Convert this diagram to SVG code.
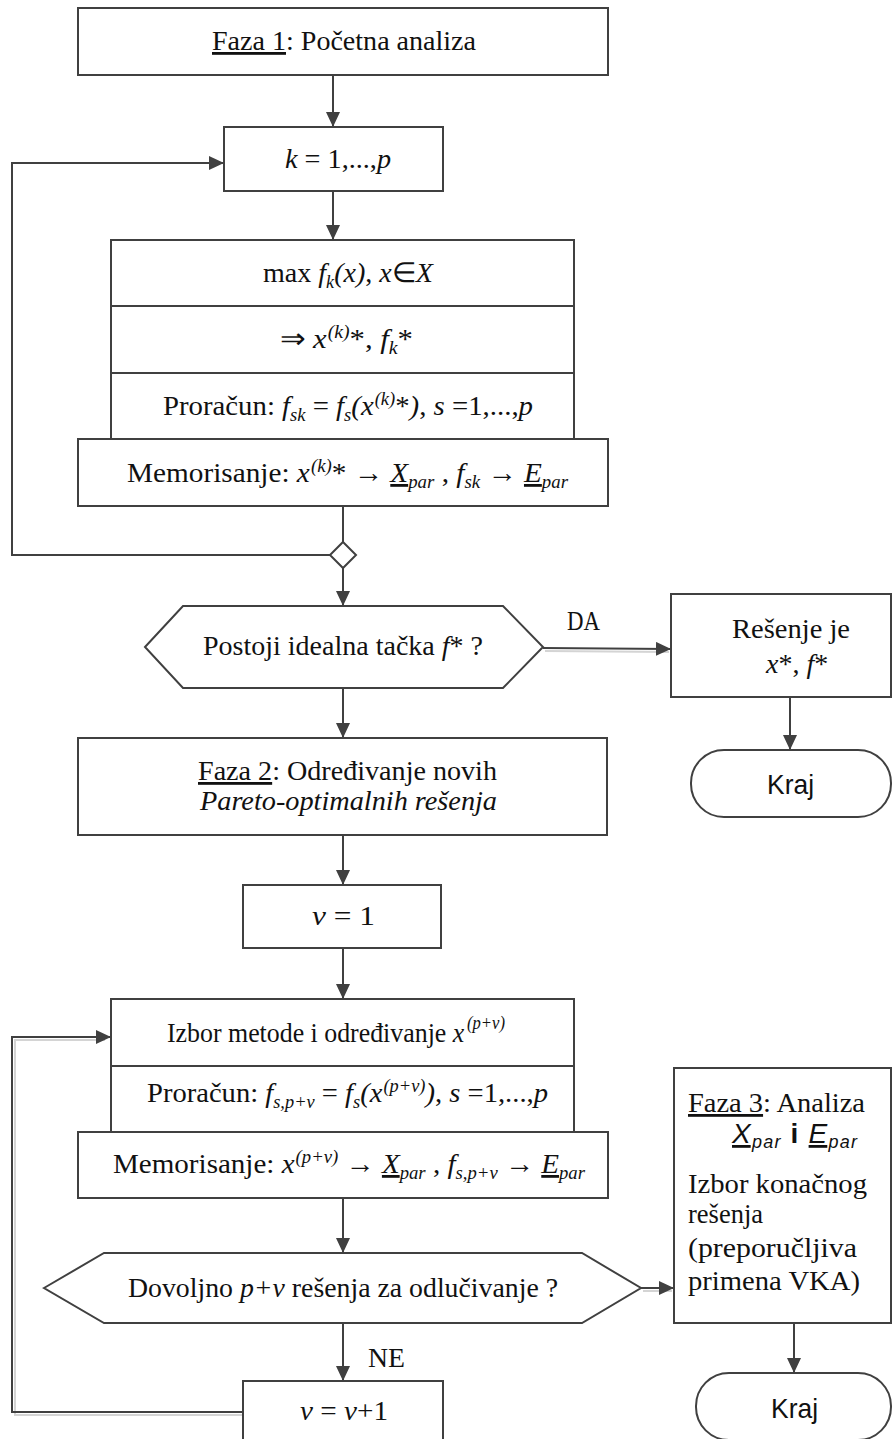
<svg xmlns="http://www.w3.org/2000/svg" width="893" height="1439" viewBox="0 0 893 1439">
  <style>
    .box{fill:#fff;stroke:#404040;stroke-width:2}
    .ln{fill:none;stroke:#404040;stroke-width:2}
    .sh{fill:none;stroke:#d4d4d4;stroke-width:2}
    .t{font-family:"Liberation Serif","Times New Roman",serif;font-size:28px;fill:#111}
    .i{font-style:italic}
    .sb{font-size:18px}
    .sans{font-family:"Liberation Sans",Arial,sans-serif}
    .u{text-decoration:underline}
  </style>
  <defs>
    <marker id="arr" viewBox="0 0 15 14" refX="15" refY="7" markerWidth="15" markerHeight="14" markerUnits="userSpaceOnUse" orient="auto">
      <path d="M0,0 L15,7 L0,14 z" fill="#404040"/>
    </marker>
  </defs>
  <rect width="893" height="1439" fill="#fff"/>

  <!-- connectors -->
  <g id="connectors">
    <!-- soft shadows under some routes -->
    <polyline class="sh" points="545,651 669,652"/>
    <polyline class="sh" points="643,1291 672,1291"/>
    <polyline class="sh" points="243,1415 15,1415 15,1040 105,1040"/>

    <line class="ln" x1="333" y1="75" x2="333" y2="127" marker-end="url(#arr)"/>
    <line class="ln" x1="333" y1="191" x2="333" y2="240" marker-end="url(#arr)"/>
    <line class="ln" x1="343" y1="506" x2="343" y2="542"/>
    <polyline class="ln" points="330,555 12,555 12,163 224,163" marker-end="url(#arr)"/>
    <line class="ln" x1="343" y1="568" x2="343" y2="606" marker-end="url(#arr)"/>
    <line class="ln" x1="543" y1="648" x2="671" y2="649" marker-end="url(#arr)"/>
    <line class="ln" x1="790" y1="697" x2="790" y2="750" marker-end="url(#arr)"/>
    <line class="ln" x1="343" y1="688" x2="343" y2="738" marker-end="url(#arr)"/>
    <line class="ln" x1="343" y1="835" x2="343" y2="885" marker-end="url(#arr)"/>
    <line class="ln" x1="343" y1="948" x2="343" y2="999" marker-end="url(#arr)"/>
    <line class="ln" x1="343" y1="1198" x2="343" y2="1253" marker-end="url(#arr)"/>
    <line class="ln" x1="641" y1="1288" x2="674" y2="1288" marker-end="url(#arr)"/>
    <line class="ln" x1="343" y1="1323" x2="343" y2="1381" marker-end="url(#arr)"/>
    <polyline class="ln" points="243,1412 12,1412 12,1037 111,1037" marker-end="url(#arr)"/>
    <line class="ln" x1="794" y1="1323" x2="794" y2="1373" marker-end="url(#arr)"/>

    <text class="t" x="567" y="630" font-size="26" textLength="33" lengthAdjust="spacingAndGlyphs">DA</text>
    <text class="t" x="368" y="1367" font-size="26" textLength="37" lengthAdjust="spacingAndGlyphs">NE</text>
  </g>

  <!-- phase 1 -->
  <g id="n-faza1">
    <rect class="box" x="78" y="8" width="530" height="67"/>
    <text class="t" x="212" y="50" font-size="27" textLength="264" lengthAdjust="spacingAndGlyphs"><tspan class="u">Faza 1</tspan>: Početna analiza</text>
  </g>

  <g id="n-k">
    <rect class="box" x="224" y="127" width="219" height="64"/>
    <text class="t" x="285" y="168" font-size="30" textLength="106" lengthAdjust="spacingAndGlyphs"><tspan class="i">k</tspan> = 1,...,<tspan class="i">p</tspan></text>
  </g>

  <g id="n-max">
    <rect class="box" x="111" y="240" width="463" height="199"/>
    <line class="ln" x1="111" y1="306" x2="574" y2="306"/>
    <line class="ln" x1="111" y1="373" x2="574" y2="373"/>
    <text class="t" x="263" y="282" textLength="170" lengthAdjust="spacingAndGlyphs">max <tspan class="i">f</tspan><tspan class="i sb" dy="6">k</tspan><tspan class="i" dy="-6">(x)</tspan>, <tspan class="i">x</tspan>∈<tspan class="i">X</tspan></text>
    <text class="t" x="280" y="348" textLength="133" lengthAdjust="spacingAndGlyphs">⇒ <tspan class="i">x</tspan><tspan class="i sb" dx="1" dy="-10">(k)</tspan><tspan dy="10">*, </tspan><tspan class="i">f</tspan><tspan class="i sb" dy="6">k</tspan><tspan dy="-6">*</tspan></text>
    <text class="t" x="163" y="415" textLength="370" lengthAdjust="spacingAndGlyphs">Proračun: <tspan class="i">f</tspan><tspan class="i sb" dy="6">sk</tspan><tspan dy="-6"> = </tspan><tspan class="i">f</tspan><tspan class="i sb" dy="6">s</tspan><tspan class="i" dy="-6">(x</tspan><tspan class="i sb" dx="1" dy="-10">(k)</tspan><tspan dy="10">*</tspan><tspan class="i">)</tspan>, <tspan class="i">s</tspan> =1,...,<tspan class="i">p</tspan></text>
  </g>

  <g id="n-mem1">
    <rect class="box" x="78" y="439" width="530" height="67"/>
    <text class="t" x="127" y="482" textLength="441" lengthAdjust="spacingAndGlyphs">Memorisanje:  <tspan class="i">x</tspan><tspan class="i sb" dx="1" dy="-10">(k)</tspan><tspan dy="10">* → </tspan><tspan class="i u">X</tspan><tspan class="i sb" dy="6">par</tspan><tspan dy="-6"> , </tspan><tspan class="i">f</tspan><tspan class="i sb" dy="6">sk</tspan><tspan dy="-6"> → </tspan><tspan class="i u">E</tspan><tspan class="i sb" dy="6">par</tspan></text>
  </g>

  <g id="n-merge">
    <polygon class="box" points="343,542 356,555 343,568 330,555"/>
  </g>

  <g id="n-ideal">
    <polygon class="box" points="145,647 183,606 503,606 543,647 503,688 183,688"/>
    <text class="t" x="203" y="655" textLength="280" lengthAdjust="spacingAndGlyphs">Postoji idealna tačka <tspan class="i">f</tspan>* ?</text>
  </g>

  <g id="n-resenje">
    <rect class="box" x="671" y="594" width="220" height="103"/>
    <text class="t" x="732" y="638" textLength="118" lengthAdjust="spacingAndGlyphs">Rešenje je</text>
    <text class="t" x="766" y="673" font-size="27"><tspan class="i">x</tspan>*, <tspan class="i">f</tspan>*</text>
  </g>

  <g id="n-kraj1">
    <rect class="box" x="691" y="750" width="200" height="67" rx="33" ry="33"/>
    <text class="t sans" x="767" y="794" font-size="29" textLength="47" lengthAdjust="spacingAndGlyphs">Kraj</text>
  </g>

  <!-- phase 2 -->
  <g id="n-faza2">
    <rect class="box" x="78" y="738" width="529" height="97"/>
    <text class="t" x="198" y="780" textLength="299" lengthAdjust="spacingAndGlyphs"><tspan class="u">Faza 2</tspan>: Određivanje novih</text>
    <text class="t i" x="200" y="810" textLength="297" lengthAdjust="spacingAndGlyphs">Pareto-optimalnih rešenja</text>
  </g>

  <g id="n-v1">
    <rect class="box" x="243" y="885" width="198" height="63"/>
    <text class="t" x="312" y="925" font-size="30" textLength="63" lengthAdjust="spacingAndGlyphs"><tspan class="i">v</tspan>  = 1</text>
  </g>

  <g id="n-izbor">
    <rect class="box" x="111" y="999" width="463" height="133"/>
    <line class="ln" x1="111" y1="1066" x2="574" y2="1066"/>
    <text class="t" x="167" y="1042" textLength="338" lengthAdjust="spacingAndGlyphs">Izbor metode i određivanje <tspan class="i">x</tspan><tspan class="i sb" dx="3" dy="-13">(p+v)</tspan></text>
    <text class="t" x="147" y="1102" textLength="401" lengthAdjust="spacingAndGlyphs">Proračun: <tspan class="i">f</tspan><tspan class="i sb" dy="6">s,p+v</tspan><tspan dy="-6"> = </tspan><tspan class="i">f</tspan><tspan class="i sb" dy="6">s</tspan><tspan class="i" dy="-6">(x</tspan><tspan class="i sb" dx="1" dy="-10">(p+v)</tspan><tspan class="i" dy="10">)</tspan>, <tspan class="i">s</tspan> =1,...,<tspan class="i">p</tspan></text>
  </g>

  <g id="n-mem2">
    <rect class="box" x="78" y="1132" width="530" height="66"/>
    <text class="t" x="113" y="1173" textLength="472" lengthAdjust="spacingAndGlyphs">Memorisanje:  <tspan class="i">x</tspan><tspan class="i sb" dx="1" dy="-10">(p+v)</tspan><tspan dy="10"> → </tspan><tspan class="i u">X</tspan><tspan class="i sb" dy="6">par</tspan><tspan dy="-6"> , </tspan><tspan class="i">f</tspan><tspan class="i sb" dy="6">s,p+v</tspan><tspan dy="-6"> → </tspan><tspan class="i u">E</tspan><tspan class="i sb" dy="6">par</tspan></text>
  </g>

  <g id="n-dovoljno">
    <polygon class="box" points="44,1288 104,1253 582,1253 641,1288 582,1323 104,1323"/>
    <text class="t" x="128" y="1297" textLength="430" lengthAdjust="spacingAndGlyphs">Dovoljno <tspan class="i">p+v</tspan> rešenja za odlučivanje ?</text>
  </g>

  <g id="n-vinc">
    <rect class="box" x="243" y="1381" width="200" height="66"/>
    <text class="t" x="300" y="1420" textLength="88" lengthAdjust="spacingAndGlyphs"><tspan class="i">v</tspan>  = <tspan class="i">v</tspan>+1</text>
  </g>

  <!-- phase 3 -->
  <g id="n-faza3">
    <rect class="box" x="674" y="1068" width="217" height="255"/>
    <text class="t" x="688" y="1112" textLength="177" lengthAdjust="spacingAndGlyphs"><tspan class="u">Faza 3</tspan>: Analiza</text>
    <text class="t sans" x="732" y="1143" font-size="24" textLength="125" lengthAdjust="spacing"><tspan class="i u">X</tspan><tspan class="i sb" dy="5" font-size="15">par</tspan><tspan dy="-5" font-weight="bold">  i  </tspan><tspan class="i u">E</tspan><tspan class="i sb" dy="5" font-size="15">par</tspan></text>
    <text class="t" x="688" y="1193" textLength="179" lengthAdjust="spacingAndGlyphs">Izbor konačnog</text>
    <text class="t" x="688" y="1223" textLength="75" lengthAdjust="spacingAndGlyphs">rešenja</text>
    <text class="t" x="688" y="1257" textLength="169" lengthAdjust="spacingAndGlyphs">(preporučljiva</text>
    <text class="t" x="688" y="1290" textLength="172" lengthAdjust="spacingAndGlyphs">primena VKA)</text>
  </g>

  <g id="n-kraj2">
    <rect class="box" x="696" y="1373" width="195" height="67" rx="33" ry="33"/>
    <text class="t sans" x="771" y="1418" font-size="29" textLength="47" lengthAdjust="spacingAndGlyphs">Kraj</text>
  </g>
</svg>
